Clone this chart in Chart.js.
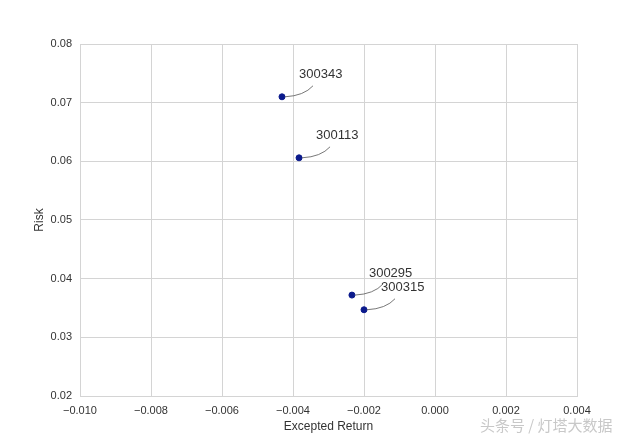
<!DOCTYPE html>
<html>
<head>
<meta charset="utf-8">
<script src="https://cdn.jsdelivr.net/npm/chart.js@4.4.1/dist/chart.umd.min.js"></script>
<style>
  html, body { margin: 0; padding: 0; background: #fff; }
  #wrap { position: relative; width: 640px; height: 440px; }
  #mark { position: absolute; left: 480px; top: 414px; font-family: "Noto Sans CJK SC"; font-size: 15px; color: #c8c8c8; }
</style>
</head>
<body>
<div id="wrap">
  <canvas id="riskChart" width="640" height="440"></canvas>
  <div id="mark">头条号 / 灯塔大数据</div>
</div>
<script>
var stocks = ['300343', '300113', '300295', '300315'];
var expReturn = [-0.00431, -0.00383, -0.00234, -0.00200];
var risk = [0.0710, 0.0606, 0.0372, 0.0347];

var points = [];
for (var i = 0; i < stocks.length; i++) {
    points.push({ x: expReturn[i], y: risk[i] });
}

function minusFmt(v, digits) {
    if (Math.abs(v) < 1e-12) v = 0;
    return v.toFixed(digits).replace('-', '\u2212');
}

// labels with a curved connector, like matplotlib annotate
var annotate = {
    id: 'annotate',
    afterDatasetsDraw: function (chart) {
        var ctx = chart.ctx;
        var meta = chart.getDatasetMeta(0);
        ctx.save();
        ctx.font = '13px "Liberation Sans", Arial, sans-serif';
        ctx.fillStyle = '#333';
        ctx.textBaseline = 'middle';
        ctx.strokeStyle = '#555';
        ctx.lineWidth = 0.8;
        meta.data.forEach(function (el, i) {
            var px = el.x, py = el.y;
            ctx.beginPath();
            ctx.moveTo(px + 3, py);
            ctx.quadraticCurveTo(px + 22, py - 1, px + 31, py - 11);
            ctx.stroke();
            ctx.fillText(stocks[i], px + 17, py - 22);
        });
        ctx.restore();
    }
};

var ctx = document.getElementById('riskChart').getContext('2d');
var myChart = new Chart(ctx, {
    type: 'scatter',
    data: {
        datasets: [{
            data: points,
            backgroundColor: '#0b1a8c',
            borderColor: '#0b1a8c',
            pointRadius: 3,
            pointHoverRadius: 3
        }]
    },
    options: {
        responsive: false,
        animation: false,
        layout: { padding: { top: 44, right: 63, left: 32, bottom: 6 } },
        plugins: { legend: { display: false }, tooltip: { enabled: false } },
        scales: {
            x: {
                min: -0.010,
                max: 0.004,
                afterFit: function (s) { s.height = 38; },
                grid: { color: '#d4d4d4', drawTicks: false },
                border: { display: true, color: '#d4d4d4' },
                ticks: {
                    stepSize: 0.002,
                    padding: 8,
                    maxRotation: 0,
                    color: '#333',
                    font: { family: '"Liberation Sans", Arial, sans-serif', size: 11 },
                    callback: function (v) { return minusFmt(v, 3); }
                },
                title: {
                    display: true,
                    text: 'Excepted Return',
                    color: '#333',
                    padding: { top: 2, bottom: 0 },
                    font: { family: '"Liberation Sans", Arial, sans-serif', size: 12 }
                }
            },
            y: {
                min: 0.02,
                max: 0.08,
                afterFit: function (s) { s.width = 48; },
                grid: { color: '#d4d4d4', drawTicks: false },
                border: { display: true, color: '#d4d4d4' },
                ticks: {
                    stepSize: 0.01,
                    padding: 8,
                    color: '#333',
                    font: { family: '"Liberation Sans", Arial, sans-serif', size: 11 },
                    callback: function (v) { return minusFmt(v, 2); }
                },
                title: {
                    display: true,
                    text: 'Risk',
                    color: '#333',
                    padding: { top: 0, bottom: 4 },
                    font: { family: '"Liberation Sans", Arial, sans-serif', size: 12 }
                }
            }
        }
    },
    plugins: [annotate]
});
</script>
</body>
</html>
